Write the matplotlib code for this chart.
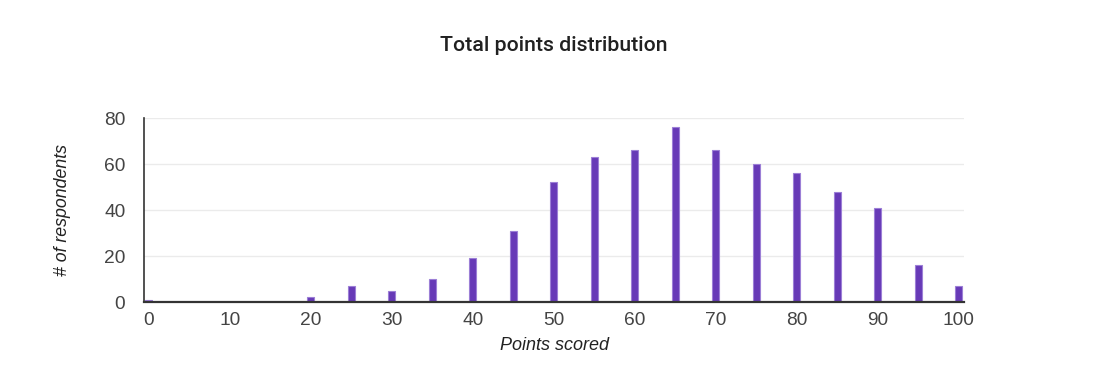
import matplotlib
matplotlib.use("Agg")
import matplotlib.pyplot as plt

points = [0, 5, 10, 15, 20, 25, 30, 35, 40, 45, 50, 55, 60, 65, 70, 75, 80, 85, 90, 95, 100]
respondents = [1, 0, 0, 0, 2, 7, 5, 10, 19, 31, 52, 63, 66, 76, 66, 60, 56, 48, 41, 16, 7]
xticks = [0, 10, 20, 30, 40, 50, 60, 70, 80, 90, 100]
yticks = [0, 20, 40, 60, 80]

fig = plt.figure(figsize=(11.08, 3.86), dpi=100)
ax = fig.add_axes([0.13, 0.2176, 0.74, 0.4767])

ax.bar(points, respondents, width=0.9, color="#673ab7", edgecolor="#9c7fd6",
       linewidth=0.8, zorder=3)

ax.set_xlim(-0.58, 100.65)
ax.set_ylim(0, 80)
ax.set_xticks(xticks)
ax.set_yticks(yticks)
ax.tick_params(axis="both", length=0, labelsize=13.8, labelcolor="#444444")
ax.tick_params(axis="x", pad=7)
ax.tick_params(axis="y", pad=13.5)
for lbl in ax.get_xticklabels() + ax.get_yticklabels():
    lbl.set_family("Liberation Sans")

ax.grid(axis="y", color="#ebebeb", linewidth=1, zorder=0)
for s in ["top", "right"]:
    ax.spines[s].set_visible(False)
ax.spines["left"].set_color("#333333")
ax.spines["left"].set_linewidth(1.2)
ax.spines["bottom"].set_color("#333333")
ax.spines["bottom"].set_linewidth(1.6)
ax.spines["bottom"].set_zorder(4)

ax.set_xlabel("Points scored", fontsize=13, style="italic", family="Liberation Sans",
              color="#222222", labelpad=6)
ax.set_ylabel("# of respondents", fontsize=12.8, style="italic", family="Liberation Sans",
              color="#222222", labelpad=24)

fig.text(0.5, 0.882, "Total points distribution", ha="center", va="center",
         fontsize=15.3, family="Roboto", fontweight="medium", color="#212121")

fig.savefig("out.png", dpi=100, facecolor="white")
